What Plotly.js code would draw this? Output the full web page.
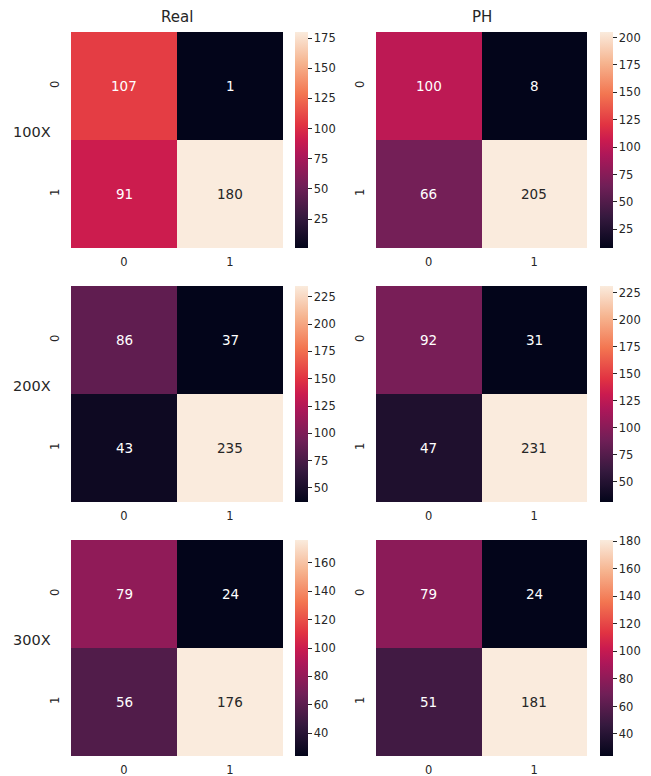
<!DOCTYPE html>
<html>
<head>
<meta charset="utf-8">
<script src="https://cdn.plot.ly/plotly-3.0.1.min.js"></script>
<style>html,body{margin:0;padding:0;background:#fff;}#chart{width:651px;height:776px;}</style>
</head>
<body>
<div id="chart"></div>
<script>
// ---- data ----
const categories = [0, 1];
const magnifications = ['100X', '200X', '300X'];
const sources = ['Real', 'PH'];
const real100 = [[107, 1], [91, 180]];
const ph100 = [[100, 8], [66, 205]];
const real200 = [[86, 37], [43, 235]];
const ph200 = [[92, 31], [47, 231]];
const real300 = [[79, 24], [56, 176]];
const ph300 = [[79, 24], [51, 181]];
const colorbarSteps = [25, 25, 20];

const matrices = [[real100, ph100], [real200, ph200], [real300, ph300]];

// seaborn "rocket" colormap (approx.)
const rocket = [
  [0.0, '#03051a'], [0.143, '#35193e'], [0.286, '#701f57'], [0.429, '#ad1759'],
  [0.5, '#cb1b4f'], [0.571, '#e13342'], [0.714, '#f37651'], [0.857, '#f6b48f'], [1.0, '#faebdd']
];
function hexToRgb(h) { return [parseInt(h.slice(1,3),16), parseInt(h.slice(3,5),16), parseInt(h.slice(5,7),16)]; }
function colorAt(t) {
  for (let i = 1; i < rocket.length; i++) {
    if (t <= rocket[i][0]) {
      const a = rocket[i-1], b = rocket[i];
      const f = (t - a[0]) / (b[0] - a[0]);
      const ca = hexToRgb(a[1]), cb = hexToRgb(b[1]);
      return ca.map((v, k) => v + (cb[k] - v) * f);
    }
  }
  return hexToRgb(rocket[rocket.length-1][1]);
}
function luminance(rgb) {
  const c = rgb.map(v => { v /= 255; return v <= 0.03928 ? v / 12.92 : Math.pow((v + 0.055) / 1.055, 2.4); });
  return 0.2126 * c[0] + 0.7152 * c[1] + 0.0722 * c[2];
}

const W = 651, H = 776;
const colX = [[71, 283], [376, 587]];
const cbX = [295, 600];
const rowY = [[32, 248], [286, 502], [540, 756]];
const FONT = 'DejaVu Sans, sans-serif';
const TXT = '#262626';

const data = [];
const layout = {
  width: W, height: H, margin: {l: 0, r: 0, t: 0, b: 0},
  paper_bgcolor: '#fff', plot_bgcolor: '#fff',
  font: {family: FONT, color: TXT},
  showlegend: false, annotations: []
};

let n = 0;
for (let r = 0; r < 3; r++) {
  for (let c = 0; c < 2; c++) {
    n++;
    const z = matrices[r][c];
    const flat = z.flat();
    const zmin = Math.min(...flat), zmax = Math.max(...flat);
    const xa = 'x' + (n === 1 ? '' : n), ya = 'y' + (n === 1 ? '' : n);
    const yTop = 1 - rowY[r][0] / H, yBot = 1 - rowY[r][1] / H;
    data.push({
      type: 'heatmap', z: z, x: categories, y: categories,
      xaxis: xa, yaxis: ya, colorscale: rocket, zmin: zmin, zmax: zmax,
      hoverinfo: 'z',
      colorbar: {
        x: cbX[c] / W, xanchor: 'left', xpad: 0, ypad: 0,
        y: (yTop + yBot) / 2, yanchor: 'middle',
        len: rowY[r][1] - rowY[r][0], lenmode: 'pixels',
        thickness: 13, thicknessmode: 'pixels',
        outlinewidth: 0, ticks: 'outside', ticklen: 4, tickwidth: 1, tickcolor: TXT,
        tick0: 0, dtick: colorbarSteps[r],
        tickfont: {family: FONT, size: 11.5, color: TXT}
      }
    });
    const axKey = 'xaxis' + (n === 1 ? '' : n), ayKey = 'yaxis' + (n === 1 ? '' : n);
    layout[axKey] = {
      domain: [colX[c][0] / W, colX[c][1] / W], anchor: ya,
      range: [-0.5, 1.5], tickvals: categories, ticktext: categories.map(String),
      ticks: '', showgrid: false, zeroline: false, showline: false, ticklabelstandoff: 5,
      tickfont: {family: FONT, size: 11.5, color: TXT}, fixedrange: true
    };
    layout[ayKey] = {
      domain: [yBot, yTop], anchor: xa,
      range: [1.5, -0.5], tickvals: categories, ticktext: categories.map(String),
      ticks: '', showgrid: false, zeroline: false, showline: false, tickangle: -90,
      ticklabelstandoff: 9,
      tickfont: {family: FONT, size: 11.5, color: TXT}, fixedrange: true
    };
    // cell annotations
    for (let i = 0; i < 2; i++) {
      for (let j = 0; j < 2; j++) {
        const v = z[i][j];
        const t = (v - zmin) / (zmax - zmin);
        const col = luminance(colorAt(t)) > 0.408 ? TXT : '#ffffff';
        layout.annotations.push({
          xref: xa, yref: ya, x: categories[j], y: categories[i], text: String(v),
          showarrow: false, font: {family: FONT, size: 13.5, color: col}
        });
      }
    }
  }
}
// column titles
for (let c = 0; c < 2; c++) {
  layout.annotations.push({
    xref: 'paper', yref: 'paper', x: (colX[c][0] + colX[c][1]) / 2 / W, y: 1 - 17 / H,
    xanchor: 'center', yanchor: 'middle', text: sources[c], showarrow: false,
    font: {family: FONT, size: 15, color: TXT}
  });
}
// row labels
for (let r = 0; r < 3; r++) {
  const mid = (rowY[r][0] + rowY[r][1]) / 2 - 8;
  layout.annotations.push({
    xref: 'paper', yref: 'paper', x: 53 / W, y: 1 - mid / H,
    xanchor: 'right', yanchor: 'middle', text: magnifications[r], showarrow: false,
    font: {family: FONT, size: 14.5, color: TXT}
  });
}

Plotly.newPlot('chart', data, layout, {displayModeBar: false, staticPlot: true});
</script>
</body>
</html>
